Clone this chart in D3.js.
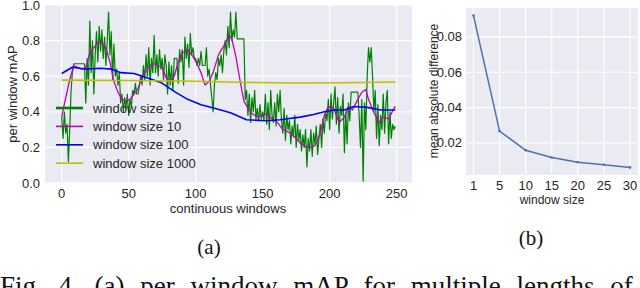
<!DOCTYPE html>
<html>
<head>
<meta charset="utf-8">
<script src="https://cdn.jsdelivr.net/npm/d3@7"></script>
<style>
  body { margin: 0; background: #fff; }
  svg { display: block; font-family: "Liberation Sans", Arial, sans-serif; }
</style>
</head>
<body>
<svg id="chart" width="640" height="288"></svg>
<script>
// (a) per window mAP, window size 1 (one value per window, 0..249)
var win1 = [
  0.37,0.25,0.40,0.28,0.33,0.12,0.30,0.52,0.62,0.67,
  0.67,0.67,0.67,0.67,0.67,0.67,0.67,0.67,0.45,0.70,
  0.55,0.91,0.62,0.80,0.50,0.72,0.85,0.68,0.88,0.74,
  0.86,0.70,0.82,0.66,0.80,0.96,0.72,0.85,0.58,0.78,
  0.60,0.64,0.55,0.62,0.45,0.50,0.40,0.48,0.42,0.50,
  0.38,0.47,0.43,0.52,0.50,0.56,0.50,0.50,0.55,0.60,
  0.55,0.66,0.58,0.72,0.60,0.76,0.55,0.70,0.62,0.83,
  0.62,0.72,0.60,0.75,0.64,0.70,0.58,0.72,0.66,0.50,
  0.68,0.55,0.66,0.52,0.70,0.70,0.70,0.56,0.75,0.68,
  0.75,0.55,0.82,0.70,0.78,0.65,0.84,0.72,0.76,0.70,
  0.70,0.66,0.70,0.66,0.74,0.66,0.66,0.66,0.76,0.60,
  0.64,0.56,0.48,0.40,0.55,0.62,0.58,0.70,0.66,0.72,
  0.62,0.74,0.80,0.72,0.88,0.76,0.96,0.80,0.86,0.82,
  0.96,0.81,0.81,0.81,0.81,0.81,0.81,0.47,0.52,0.38,
  0.50,0.34,0.48,0.40,0.52,0.36,0.42,0.35,0.44,0.36,
  0.40,0.35,0.50,0.33,0.45,0.30,0.52,0.38,0.34,0.45,
  0.32,0.50,0.40,0.52,0.36,0.28,0.42,0.24,0.38,0.30,
  0.35,0.22,0.32,0.26,0.38,0.20,0.33,0.24,0.30,0.18,
  0.27,0.20,0.30,0.09,0.25,0.18,0.30,0.15,0.28,0.22,
  0.32,0.16,0.25,0.33,0.20,0.36,0.28,0.40,0.35,0.47,
  0.30,0.50,0.36,0.45,0.54,0.33,0.48,0.28,0.43,0.38,
  0.50,0.17,0.40,0.22,0.45,0.35,0.51,0.51,0.51,0.51,
  0.51,0.51,0.38,0.20,0.47,0.01,0.45,0.30,0.60,0.76,
  0.68,0.76,0.60,0.40,0.52,0.25,0.44,0.21,0.38,0.30,
  0.50,0.28,0.45,0.52,0.22,0.40,0.25,0.33,0.30,0.32
];

// smoother series, read at sampled window indices
var win10Idx = [0,3,6,9,12,15,18,21,24,27,30,33,36,39,42,45,48,51,54,57,60,63,66,69,72,75,78,81,84,87,90,94,98,101,104,107,110,113,117,121,125,127,130,133,136,139,142,146,150,153,157,161,165,168,171,175,178,182,186,189,193,196,199,203,207,211,214,217,221,224,227,229,233,237,240,244,248,249];
var win10Val = [0.37,0.48,0.58,0.66,0.65,0.64,0.65,0.73,0.76,0.79,0.79,0.76,0.68,0.57,0.51,0.47,0.46,0.47,0.50,0.53,0.60,0.63,0.66,0.67,0.66,0.65,0.59,0.57,0.60,0.68,0.73,0.75,0.71,0.67,0.62,0.55,0.57,0.62,0.72,0.77,0.83,0.81,0.71,0.58,0.46,0.42,0.39,0.37,0.38,0.39,0.36,0.34,0.30,0.29,0.28,0.25,0.225,0.205,0.20,0.21,0.28,0.38,0.43,0.42,0.34,0.37,0.43,0.41,0.47,0.51,0.525,0.47,0.395,0.34,0.37,0.36,0.42,0.43];

var win100Idx = [0,8,17,29,37,44,54,64,74,84,94,104,114,126,138,153,163,178,188,196,203,211,218,228,238,249];
var win100Val = [0.615,0.65,0.64,0.645,0.64,0.62,0.615,0.59,0.565,0.515,0.47,0.44,0.42,0.395,0.355,0.35,0.355,0.37,0.385,0.40,0.41,0.41,0.43,0.425,0.41,0.41];

var win1000Idx = [0,50,100,140,175,210,249];
var win1000Val = [0.578,0.576,0.572,0.565,0.562,0.563,0.567];

var xTicksA = [0,50,100,150,200,250];
var yTicksA = [0.0,0.2,0.4,0.6,0.8,1.0];

// (b) mean absolute difference vs window size
var windowSizes = ["1","5","10","15","20","25","30"];
var meanAbsDiff = [0.092,0.0267,0.0159,0.0118,0.0091,0.0077,0.0062];
var yTicksB = [0.02,0.04,0.06,0.08];

var svg = d3.select("#chart");
var bg = "#eaeaf2", txt = "#262626";

/* ---------- panel (a) ---------- */
var xa = d3.scaleLinear().domain([-12.45, 261.45]).range([45, 412]);
var ya = d3.scaleLinear().domain([0, 1]).range([183, 5]);

var ga = svg.append("g");
ga.append("rect")
  .attr("x", 45).attr("y", 5)
  .attr("width", 367).attr("height", 178)
  .attr("fill", bg);

ga.selectAll(".gx").data(xTicksA).enter().append("line")
  .attr("x1", function(d){ return xa(d); }).attr("x2", function(d){ return xa(d); })
  .attr("y1", 5).attr("y2", 183)
  .attr("stroke", "#fff").attr("stroke-width", 1.1);
ga.selectAll(".gy").data(yTicksA).enter().append("line")
  .attr("x1", 45).attr("x2", 412)
  .attr("y1", function(d){ return ya(d); }).attr("y2", function(d){ return ya(d); })
  .attr("stroke", "#fff").attr("stroke-width", 1.1);

ga.selectAll(".tx").data(xTicksA).enter().append("text")
  .attr("x", function(d){ return xa(d); }).attr("y", 198)
  .attr("text-anchor", "middle").attr("font-size", 13).attr("fill", txt)
  .text(function(d){ return d; });
ga.selectAll(".ty").data(yTicksA).enter().append("text")
  .attr("x", 40).attr("y", function(d){ return ya(d) + 4.5; })
  .attr("text-anchor", "end").attr("font-size", 13).attr("fill", txt)
  .text(function(d){ return d.toFixed(1); });

ga.append("text")
  .attr("x", 228).attr("y", 213)
  .attr("text-anchor", "middle").attr("font-size", 13).attr("fill", txt)
  .text("continuous windows");
ga.append("text")
  .attr("transform", "translate(17,94) rotate(-90)")
  .attr("text-anchor", "middle").attr("font-size", 13).attr("fill", txt)
  .text("per window mAP");

var lineA = d3.line()
  .x(function(d){ return xa(d[0]); })
  .y(function(d){ return ya(d[1]); });

var series = [
  { name: "window size 1",    pts: win1.map(function(v, i){ return [i, v]; }), color: "#008000", w: 1.2, lw: 2.6 },
  { name: "window size 10",   pts: d3.zip(win10Idx, win10Val),   color: "#bf00bf", w: 1.3, lw: 1.6 },
  { name: "window size 100",  pts: d3.zip(win100Idx, win100Val), color: "#0000ff", w: 1.6, lw: 1.6 },
  { name: "window size 1000", pts: d3.zip(win1000Idx, win1000Val), color: "#bfbf00", w: 1.6, lw: 1.6 }
];

ga.selectAll(".series").data(series).enter().append("path")
  .attr("d", function(s){ return lineA(s.pts); })
  .attr("fill", "none")
  .attr("stroke", function(s){ return s.color; })
  .attr("stroke-width", function(s){ return s.w; })
  .attr("stroke-linejoin", "round");

// legend, lower left, no frame
var leg = ga.selectAll(".leg").data(series).enter().append("g")
  .attr("transform", function(s, i){ return "translate(56," + (108 + i * 18.4) + ")"; });
leg.append("line")
  .attr("x1", 0).attr("x2", 27)
  .attr("stroke", function(s){ return s.color; })
  .attr("stroke-width", function(s){ return s.lw; });
leg.append("text")
  .attr("x", 37).attr("y", 4.5)
  .attr("font-size", 13).attr("fill", txt)
  .text(function(s){ return s.name; });

/* ---------- panel (b) ---------- */
var xb = d3.scalePoint().domain(windowSizes).range([473.5, 630]).padding(0);
var yb = d3.scaleLinear().domain([0.0019, 0.0963]).range([175, 8]);

var gb = svg.append("g");
gb.append("rect")
  .attr("x", 466).attr("y", 8)
  .attr("width", 172).attr("height", 167)
  .attr("fill", bg);

gb.selectAll(".gx").data(windowSizes).enter().append("line")
  .attr("x1", function(d){ return xb(d); }).attr("x2", function(d){ return xb(d); })
  .attr("y1", 8).attr("y2", 175)
  .attr("stroke", "#fff").attr("stroke-width", 1.1);
gb.selectAll(".gy").data(yTicksB).enter().append("line")
  .attr("x1", 466).attr("x2", 638)
  .attr("y1", function(d){ return yb(d); }).attr("y2", function(d){ return yb(d); })
  .attr("stroke", "#fff").attr("stroke-width", 1.1);

gb.selectAll(".tx").data(windowSizes).enter().append("text")
  .attr("x", function(d){ return xb(d); }).attr("y", 190)
  .attr("text-anchor", "middle").attr("font-size", 13).attr("fill", txt)
  .text(function(d){ return d; });
gb.selectAll(".ty").data(yTicksB).enter().append("text")
  .attr("x", 462).attr("y", function(d){ return yb(d) + 4.5; })
  .attr("text-anchor", "end").attr("font-size", 13).attr("fill", txt)
  .text(function(d){ return d.toFixed(2); });

gb.append("text")
  .attr("x", 552).attr("y", 204)
  .attr("text-anchor", "middle").attr("font-size", 12).attr("fill", txt)
  .text("window size");
gb.append("text")
  .attr("transform", "translate(438,91) rotate(-90)")
  .attr("text-anchor", "middle").attr("font-size", 12).attr("fill", txt)
  .text("mean absolute difference");

var lineB = d3.line()
  .x(function(d){ return xb(d[0]); })
  .y(function(d){ return yb(d[1]); });
gb.append("path")
  .attr("d", lineB(d3.zip(windowSizes, meanAbsDiff)))
  .attr("fill", "none").attr("stroke", "#4c72b0").attr("stroke-width", 1.5);
gb.selectAll(".pt").data(d3.zip(windowSizes, meanAbsDiff)).enter().append("circle")
  .attr("cx", function(d){ return xb(d[0]); })
  .attr("cy", function(d){ return yb(d[1]); })
  .attr("r", 1.3).attr("fill", "#4c72b0");

/* ---------- captions ---------- */
var serif = "'Liberation Serif', 'Times New Roman', serif";
svg.append("text")
  .attr("x", 209).attr("y", 254)
  .attr("text-anchor", "middle")
  .attr("font-family", serif)
  .attr("font-size", 21).attr("fill", "#111")
  .text("(a)");
svg.append("text")
  .attr("x", 531).attr("y", 245)
  .attr("text-anchor", "middle")
  .attr("font-family", serif)
  .attr("font-size", 21).attr("fill", "#111")
  .text("(b)");
svg.append("text")
  .attr("x", 0).attr("y", 295)
  .attr("font-family", serif)
  .attr("font-size", 27).attr("fill", "#111")
  .attr("word-spacing", 9)
  .text("Fig. 4.  (a) per window mAP for multiple lengths of");
</script>
</body>
</html>
